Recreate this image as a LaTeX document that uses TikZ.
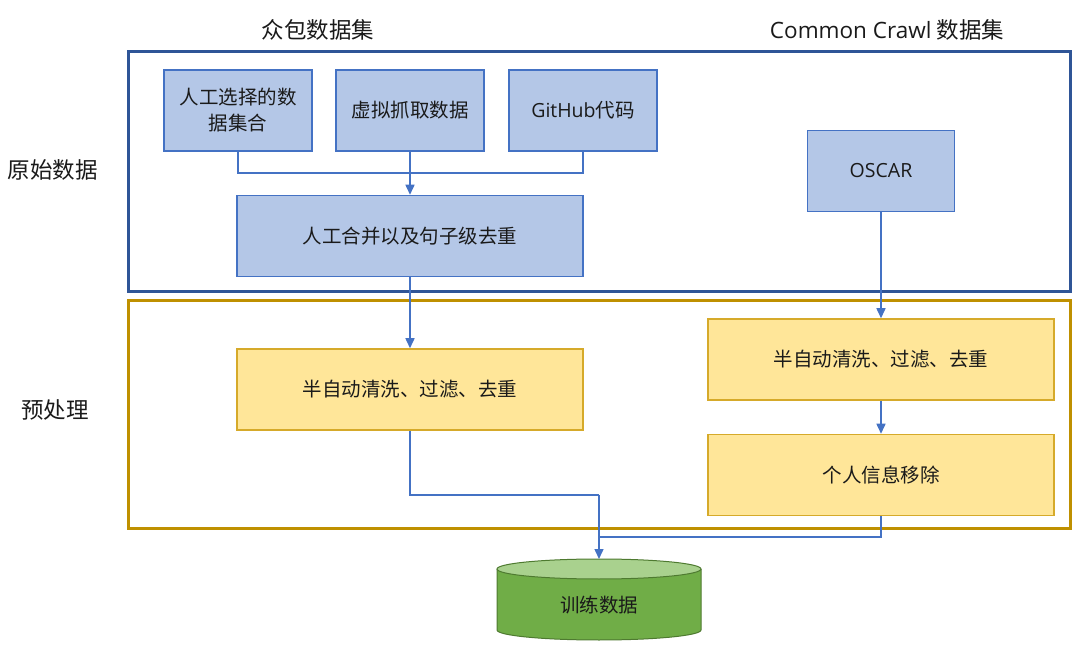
\documentclass[tikz,border=0pt]{standalone}
\usepackage{fontspec}
\setmainfont{Noto Sans CJK SC}
\newfontfamily\lat{Open Sans}
\usetikzlibrary{arrows.meta}
\definecolor{frameblue}{HTML}{2F5597}
\definecolor{framegold}{HTML}{BF9000}
\definecolor{boxblue}{HTML}{B4C7E7}
\definecolor{lineblue}{HTML}{4472C4}
\definecolor{boxyellow}{HTML}{FFE699}
\definecolor{lineyellow}{HTML}{D6AA2A}
\definecolor{cylbody}{HTML}{70AD47}
\definecolor{cyltop}{HTML}{A9D18E}
\definecolor{cylline}{HTML}{4E7A30}
\definecolor{txt}{HTML}{1A1A1A}
\tikzset{
  bluebox/.style={draw=lineblue, fill=boxblue, line width=1.5pt, minimum height=81pt, align=center, font=\fontsize{19.5}{26}\selectfont, text=txt, inner sep=0pt},
  yellowbox/.style={draw=lineyellow, fill=boxyellow, line width=1.5pt, minimum width=346pt, minimum height=81pt, align=center, font=\fontsize{19.5}{26}\selectfont, text=txt, inner sep=0pt},
  conn/.style={draw=lineblue, line width=1.5pt},
  arr/.style={conn, -{Triangle[length=10pt,width=9pt]}},
  title/.style={font=\fontsize{22.5}{26}\selectfont, text=txt, inner sep=0pt},
  frame/.style={line width=3pt}
}
\begin{document}
\begin{tikzpicture}[x=1pt, y=-1pt]
\useasboundingbox (0,0) rectangle (1080,660);
% frames
\draw[frame, draw=frameblue] (128,52) rectangle (1070,292);
\draw[frame, draw=framegold] (128,301) rectangle (1070,528);
% titles
\node[title] (t1) at (318,30) {众包数据集};
\node[title] (t2) at (887,30) {{\lat Common Crawl} 数据集};
\node[title] (t3) at (53,170) {原始数据};
\node[title] (t4) at (55,410) {预处理};
% boxes
\node[bluebox, minimum width=148pt] (b1) at (238,110.5) {人工选择的数\\据集合};
\node[bluebox, minimum width=148pt] (b2) at (410,110.5) {虚拟抓取数据};
\node[bluebox, minimum width=148pt] (b3) at (583,110.5) {{\lat GitHub}代码};
\node[bluebox, minimum width=346pt] (mg) at (410,236) {人工合并以及句子级去重};
\node[bluebox, minimum width=147pt] (os) at (881,171) {\lat OSCAR};
\node[yellowbox] (ly) at (410,389.5) {半自动清洗、过滤、去重};
\node[yellowbox] (ry1) at (881,359.5) {半自动清洗、过滤、去重};
\node[yellowbox] (ry2) at (881,475) {个人信息移除};
% cylinder
\path[fill=cylbody, draw=cylline, line width=1pt] (497,569) -- (497,630) arc[start angle=180, end angle=360, x radius=102pt, y radius=10pt] -- (701,569);
\draw[fill=cyltop, draw=cylline, line width=1pt] (599,569) ellipse [x radius=102pt, y radius=10pt];
\node[font=\fontsize{19.5}{22}\selectfont, text=txt, inner sep=0pt] (db) at (599,605) {训练数据};
\coordinate (dbtop) at (599,559);
% connectors
\coordinate (m1) at (410,173);
\coordinate (j1) at (599,495);
\coordinate (j2) at (599,537);
\draw[conn] (b1.south) |- (m1);
\draw[conn] (b3.south) |- (m1);
\draw[arr] (b2.south) -- (mg.north);
\draw[arr] (mg.south) -- (ly.north);
\draw[arr] (os.south) -- (ry1.north);
\draw[arr] (ry1.south) -- (ry2.north);
\draw[conn] (ly.south) |- (j1);
\draw[conn] (ry2.south) |- (j2);
\draw[arr] (j1) -- (dbtop);
\end{tikzpicture}
\end{document}
